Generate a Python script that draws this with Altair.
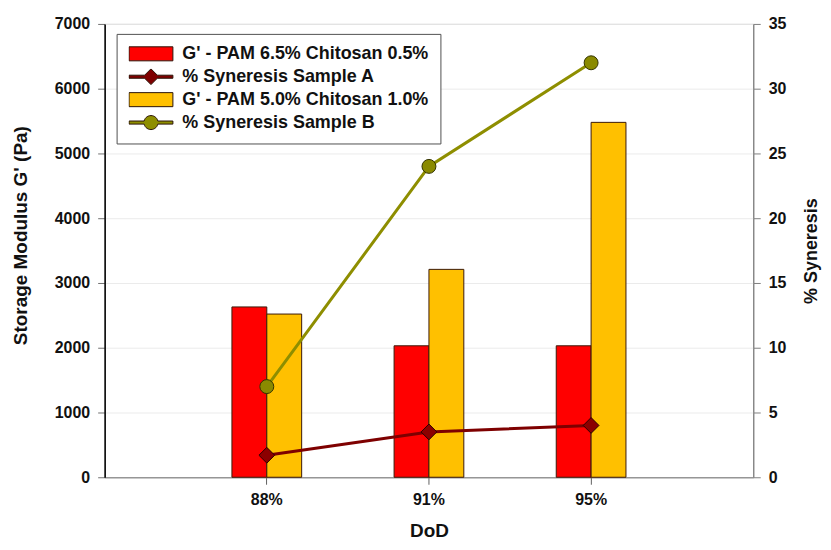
import math
import altair as alt
import pandas as pd

# ---- data ----
dod = ["88%", "91%", "95%"]
bar_series = ["G' - PAM 6.5% Chitosan 0.5%", "G' - PAM 5.0% Chitosan 1.0%"]
line_series = ["% Syneresis Sample A", "% Syneresis Sample B"]
g_sample_a = [2630, 2030, 2030]
g_sample_b = [2520, 3210, 5480]
syneresis_a = [1.7, 3.5, 4.0]
syneresis_b = [7.0, 24.0, 32.0]

bar_colors = ["#FF0000", "#FFC000"]
line_colors = ["#7E0000", "#8E8E00"]
marker_fills = ["#8B0000", "#8A8A00"]

legend_order = [bar_series[0], line_series[0], bar_series[1], line_series[1]]
legend_colors = [bar_colors[0], line_colors[0], bar_colors[1], line_colors[1]]


# ---- legend symbol outlines (unit square, scaled by the legend symbol size) ----
def line_with_circle_path(half_w=0.07, r=0.32, steps=14):
    x0 = math.sqrt(r * r - half_w * half_w)
    a0 = math.atan2(-half_w, -x0)          # left-top meeting point
    a1 = math.atan2(-half_w, x0)           # right-top meeting point
    pts = [(-1, -half_w), (-x0, -half_w)]
    # upper arc from left to right through the top (angles going towards -pi/2)
    start = a0 if a0 < 0 else a0 - 2 * math.pi
    for k in range(1, steps):
        t = start + (a1 - start) * k / steps
        pts.append((r * math.cos(t), r * math.sin(t)))
    pts += [(x0, -half_w), (1, -half_w), (1, half_w), (x0, half_w)]
    b0 = math.atan2(half_w, x0)
    b1 = math.atan2(half_w, -x0)
    for k in range(1, steps):
        t = b0 + (b1 - b0) * k / steps
        pts.append((r * math.cos(t), r * math.sin(t)))
    pts += [(-x0, half_w), (-1, half_w)]
    return "M" + " L".join(f"{px:.3f},{py:.3f}" for px, py in pts) + " Z"


rect_path = "M-1,-0.32 L1,-0.32 L1,0.32 L-1,0.32 Z"
diamond_line_path = ("M-1,-0.07 L-0.29,-0.07 L0,-0.36 L0.29,-0.07 L1,-0.07 L1,0.07 "
                     "L0.29,0.07 L0,0.36 L-0.29,0.07 L-1,0.07 Z")
circle_line_path = line_with_circle_path()
legend_shapes = [rect_path, diamond_line_path, rect_path, circle_line_path]

bar_rows = []
for i, d in enumerate(dod):
    bar_rows.append({"dod": d, "series": bar_series[0], "value": g_sample_a[i]})
    bar_rows.append({"dod": d, "series": bar_series[1], "value": g_sample_b[i]})
bar_df = pd.DataFrame(bar_rows)

line_rows = []
for i, d in enumerate(dod):
    line_rows.append({"dod": d, "series": line_series[0], "value": syneresis_a[i]})
    line_rows.append({"dod": d, "series": line_series[1], "value": syneresis_b[i]})
line_df = pd.DataFrame(line_rows)

FONT = "Liberation Sans"

x_enc = alt.X(
    "dod:N",
    scale=alt.Scale(domain=dod, paddingInner=0.57, paddingOuter=0.785),
    axis=alt.Axis(
        title="DoD", labelAngle=0, grid=False,
        domainColor="#808080", tickColor="#606060", tickSize=7,
        labelFont=FONT, labelFontSize=16, labelFontWeight="bold", labelColor="#111",
        labelPadding=7,
        titleFont=FONT, titleFontSize=19, titleFontWeight="bold", titleColor="#111",
        titleBaseline="bottom", titleY=63,
    ),
)

y_left = alt.Y(
    "value:Q",
    scale=alt.Scale(domain=[0, 7000]),
    axis=alt.Axis(
        title="Storage Modulus G' (Pa)", orient="left", format="d",
        values=[0, 1000, 2000, 3000, 4000, 5000, 6000, 7000],
        grid=True, gridColor="#ebebeb", gridWidth=1,
        domainColor="#000000", domainWidth=1.5, tickColor="#707070", tickSize=7,
        labelFont=FONT, labelFontSize=16, labelFontWeight="bold", labelColor="#111",
        labelPadding=8,
        titleFont=FONT, titleFontSize=19, titleFontWeight="bold", titleColor="#111",
        titleBaseline="middle", titleX=-84, titleY=212,
    ),
)

y_right = alt.Y(
    "value:Q",
    scale=alt.Scale(domain=[0, 35]),
    axis=alt.Axis(
        title="% Syneresis", orient="right", format="d",
        values=[0, 5, 10, 15, 20, 25, 30, 35],
        grid=False,
        domainColor="#808080", tickColor="#808080", tickSize=7,
        labelFont=FONT, labelFontSize=16, labelFontWeight="bold", labelColor="#111",
        labelPadding=8,
        titleFont=FONT, titleFontSize=18, titleFontWeight="bold", titleColor="#111",
        titleAngle=270, titleBaseline="middle", titleX=58,
    ),
)

bars = alt.Chart(bar_df).mark_bar(stroke="#3b1a0a", strokeWidth=1).encode(
    x=x_enc,
    xOffset=alt.XOffset("series:N", scale=alt.Scale(domain=bar_series, paddingInner=0, paddingOuter=0)),
    y=y_left,
    fill=alt.Fill("series:N", scale=alt.Scale(domain=bar_series, range=bar_colors), legend=None),
)

lines = alt.Chart(line_df).mark_line(strokeWidth=3).encode(
    x=x_enc,
    y=y_right,
    stroke=alt.Stroke("series:N", scale=alt.Scale(domain=line_series, range=line_colors), legend=None),
)

points_a = alt.Chart(line_df).transform_filter(
    alt.datum.series == line_series[0]
).mark_point(shape="diamond", filled=True, size=250, opacity=1,
             fill=marker_fills[0], stroke="#2a0000", strokeWidth=1).encode(
    x=x_enc,
    y=y_right,
)

points_b = alt.Chart(line_df).transform_filter(
    alt.datum.series == line_series[1]
).mark_point(shape="circle", filled=True, size=196, opacity=1,
             fill=marker_fills[1], stroke="#333300", strokeWidth=1).encode(
    x=x_enc,
    y=y_right,
)

legend_def = alt.Legend(
    title=None, orient="none", legendX=12, legendY=10,
    symbolSize=1936, clipHeight=16, rowPadding=5,
    labelFont=FONT, labelFontSize=18, labelFontWeight="bold", labelColor="#111",
    labelLimit=500, labelOffset=9, padding=12,
    strokeColor="#505050", fillColor="white",
    symbolStrokeWidth=1,
)

legend_layer = alt.Chart(line_df).transform_filter("false").mark_point(
    filled=True, opacity=1, stroke="#2b1408", strokeWidth=1
).encode(
    color=alt.Color("series:N", scale=alt.Scale(domain=legend_order, range=legend_colors),
                    legend=legend_def),
    shape=alt.Shape("series:N", scale=alt.Scale(domain=legend_order, range=legend_shapes),
                    legend=legend_def),
)

right_layer = alt.layer(lines, points_a, points_b, legend_layer)

chart = alt.layer(bars, right_layer).resolve_scale(y="independent").properties(
    width=651,
    height=455,
    autosize="none",
    padding={"left": 97, "top": 15, "right": 70, "bottom": 64},
).configure_view(stroke="#808080", strokeWidth=1)

chart.save("out.html", embed_options={"renderer": "svg", "actions": False})
